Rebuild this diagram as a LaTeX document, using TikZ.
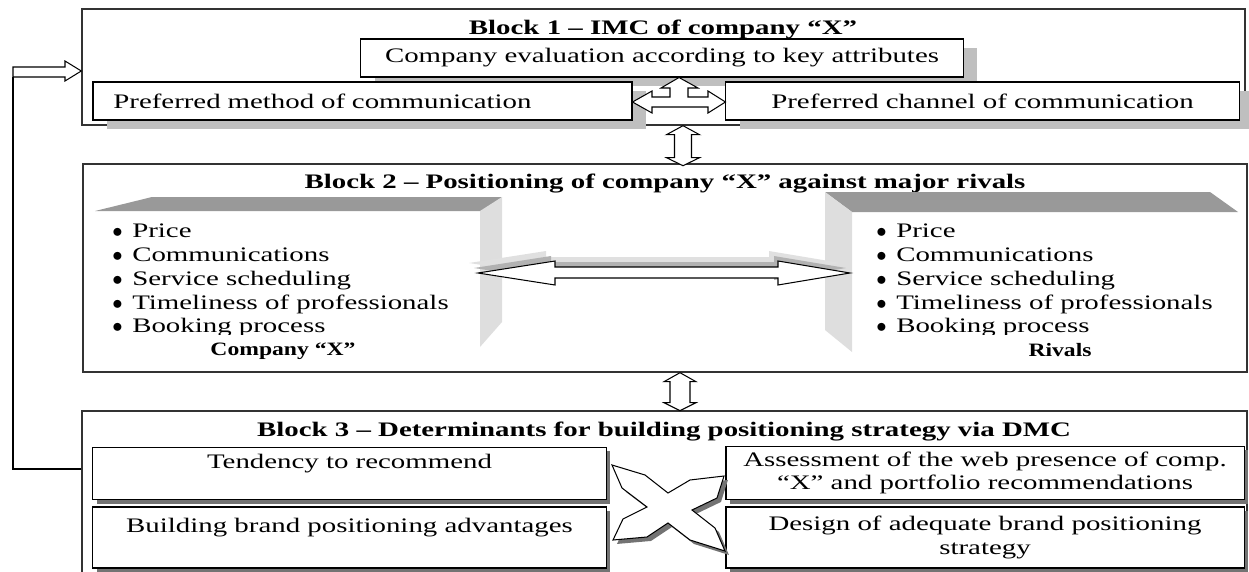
\documentclass[tikz,border=0pt]{standalone}
\usepackage{fontspec}
\setmainfont{Liberation Serif}[FakeStretch=1.4]
\newfontfamily\labelfont{Liberation Serif}[Ligatures=TeX,FakeStretch=1.25]
\usetikzlibrary{calc,fit,shadows}

\newcommand\bodysize{\fontsize{12pt}{13.8pt}\selectfont}
\newcommand\bul{\makebox[11.6pt][l]{$\bullet$}}

\begin{document}
\begin{tikzpicture}[x=0.582pt,y=-0.582pt,
  block/.style={draw=black!80,line width=0.8pt,inner sep=0pt},
  blocktitle/.style={font=\fontsize{12pt}{14pt}\selectfont\bfseries,anchor=base},
  box/.style={draw,line width=0.6pt,fill=white,inner sep=0pt,align=center,font=\bodysize},
  softbox/.style={box,drop shadow={shadow xshift=8.1pt,shadow yshift=-5.2pt,fill=black!25,opacity=1}},
  hardshade/.style={drop shadow={shadow xshift=2.3pt,shadow yshift=-2.3pt,fill=black!55,opacity=1}},
  hardbox/.style={box,hardshade},
  hollow/.style={draw,line width=0.6pt,fill=white,line join=miter},
  itemlist/.style={align=left,inner sep=0pt,anchor=north west,font=\bodysize},
  sidelabel/.style={font=\labelfont\fontsize{11pt}{13pt}\selectfont\bfseries,anchor=base}]
  \useasboundingbox (0,0) rectangle (1249,571);
  \clip (0,0) rectangle (1249,571);

  % the three blocks
  \node[block,fit={(82,9) (1245,125)}] (b1) {};
  \node[block,fit={(83,164) (1247,372)}] (b2) {};
  \node[block,fit={(82,411) (1247,620)}] (b3) {};

  % block 1: IMC
  \node[blocktitle] (t1) at (663,35) {Block 1 -- IMC of company ``X''};
  \node[softbox,minimum width=350.4pt,minimum height=22.1pt] (eval) at (662,58)
    {Company evaluation according to key attributes};
  \node[softbox,minimum width=313.7pt,minimum height=22.1pt,text width=290pt,align=left] (meth) at (362.5,101)
    {Preferred method of communication};
  \node[softbox,minimum width=298.6pt,minimum height=22.1pt] (chan) at (982.5,101)
    {Preferred channel of communication};
  \draw[hollow] (meth.east |- 0,102) -- (652,91) -- (652,97) -- (670,97) -- (670,88) -- (661,88)
    -- (eval.south -| 679,0) -- (698,88) -- (688,88) -- (688,97) -- (708,97) -- (708,91)
    -- (chan.west |- 0,102) -- (708,113) -- (708,107) -- (652,107) -- (652,113) -- cycle;

  % links between blocks
  \draw[hollow] ($(b1.south)+(19.5,0)$) -- ++(16.5,9) -- ++(-8,0) -- ++(0,23) -- ++(8,0)
    -- ++(-16.5,8) -- ++(-16.5,-8) -- ++(8,0) -- ++(0,-23) -- ++(-8,0) -- cycle;
  \draw[hollow] ($(b2.south)+(15,0)$) -- ++(16,9) -- ++(-6,0) -- ++(0,21) -- ++(6,0)
    -- ++(-16,8) -- ++(-16,-8) -- ++(6,0) -- ++(0,-21) -- ++(-6,0) -- cycle;

  % block 2: positioning
  \node[blocktitle] (t2) at (665,188) {Block 2 -- Positioning of company ``X'' against major rivals};
  \fill[black!40] (95,211) -- (152,197) -- (502,197) -- (482,211) -- cycle;
  \fill[black!13] (480,211) -- (502,197) -- (502,322) -- (480,347) -- cycle;
  \fill[black!40] (825,192) -- (1210,192) -- (1238,212) -- (852,212) -- cycle;
  \fill[black!13] (825,192) -- (852,212) -- (852,352) -- (825,330) -- cycle;
  \begin{scope}
    \clip (0,190) rectangle (1249,334);
    \node[itemlist] (ownlist) at (112,224) {\bul Price\\\bul Communications\\\bul Service scheduling\\
      \bul Timeliness of professionals\\\bul Booking process};
    \node[itemlist] (rivlist) at (876,224) {\bul Price\\\bul Communications\\\bul Service scheduling\\
      \bul Timeliness of professionals\\\bul Booking process};
  \end{scope}
  \node[sidelabel] (ownlbl) at (283,355) {Company ``X''};
  \node[sidelabel] (rivlbl) at (1060,356) {Rivals};
  \foreach \dx/\dy/\col in {-9/-10/black!12,-4/-5/black!30}
    \fill[\col,shift={(\dx,\dy)}] (478,273) -- (555,261) -- (555,267) -- (778,267) -- (778,261)
      -- (850,273) -- (778,285) -- (778,278) -- (555,278) -- (555,285) -- cycle;
  \draw[hollow] (478,273) -- (555,261) -- (555,267) -- (778,267) -- (778,261)
    -- (850,273) -- (778,285) -- (778,278) -- (555,278) -- (555,285) -- cycle;

  % block 3: determinants
  \node[blocktitle] (t3) at (664,436) {Block 3 -- Determinants for building positioning strategy via DMC};
  \node[hardbox,minimum width=298.6pt,minimum height=30.8pt] (tend) at (349.5,473.5)
    {Tendency to recommend\\\mbox{}};
  \node[hardbox,minimum width=298.6pt,minimum height=35.5pt] (brand) at (349.5,537.5)
    {Building brand positioning advantages\\\mbox{}};
  \node[hardbox,minimum width=301.5pt,minimum height=31.4pt] (web) at (985,473)
    {Assessment of the web presence of comp.\\``X'' and portfolio recommendations};
  \node[hardbox,minimum width=301.5pt,minimum height=35.5pt] (design) at (985,537.5)
    {Design of adequate brand positioning\\strategy};
  \draw[hollow,hardshade] (612,465) -- (645,475) -- (668,493) -- (690,480) -- (724,476) -- (717,498)
    -- (692,510) -- (715,528) -- (725,551) -- (690,540) -- (668,523) -- (647,537) -- (613,540)
    -- (623,519) -- (647,507) -- (622,488) -- cycle;

  % feedback to block 1
  \draw[hollow] (13,67) -- (65,67) -- (65,61) -- (b1.west |- 0,71) -- (65,81) -- (65,77)
    -- (13,77) coordinate (fbtail) -- cycle;
  \draw[line width=0.6pt] (b3.west |- 0,469) -| (fbtail);
\end{tikzpicture}
\end{document}
